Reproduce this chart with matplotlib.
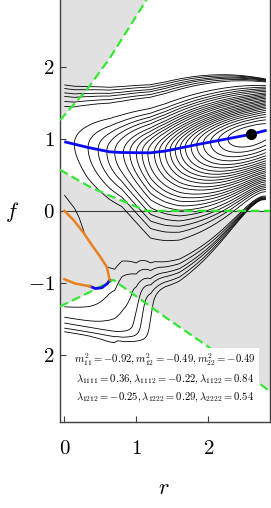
import numpy as np
import matplotlib

matplotlib.use("Agg")
import matplotlib.pyplot as plt
from matplotlib.path import Path

plt.rcParams["mathtext.fontset"] = "cm"
plt.rcParams["font.family"] = "serif"

# --- curves (r, f) ---
valley_r = [0.0, 0.33, 0.63, 0.8, 1.19, 1.4, 1.79, 2.26, 2.6, 2.81]
valley_f = [0.96, 0.88, 0.82, 0.81, 0.806, 0.83, 0.91, 1.0, 1.065, 1.12]
min_r, min_f = 2.6, 1.065

orange_up_r = [0.0, 0.13, 0.27, 0.40, 0.50, 0.59, 0.61, 0.63]
orange_up_f = [0.0, -0.13, -0.31, -0.50, -0.64, -0.78, -0.87, -0.96]
orange_lo_r = [0.0, 0.15, 0.36]
orange_lo_f = [-0.95, -1.01, -1.05]
blue_lo_r = [0.36, 0.43, 0.52, 0.60, 0.63]
blue_lo_f = [-1.05, -1.08, -1.07, -1.01, -0.96]

green_top_r = [-0.06, 0.31, 0.63, 0.87, 1.14]
green_top_f = [1.26, 1.68, 2.12, 2.50, 2.93]
green_mid_r = [-0.06, 0.36, 0.68, 1.14, 2.86]
green_mid_f = [0.57, 0.33, 0.19, 0.0, 0.0]
green_low_r = [-0.06, 0.31, 0.68, 1.42, 2.16, 2.86]
green_low_f = [-1.33, -1.15, -0.96, -1.49, -2.0, -2.51]

# contour positions: closed loops crossing the valley (r), open lines at r=0 (f)
loop_cross_r = [2.27, 2.14, 2.03, 1.93, 1.84, 1.76, 1.68, 1.61, 1.54, 1.47, 1.40, 1.32,
                1.25, 1.16, 1.08, 1.00, 0.91, 0.82, 0.70, 0.59, 0.47, 0.33, 0.14]
open_top_f = [1.45, 1.52, 1.59, 1.64, 1.70, 1.75]
# lower-left family (levels 25..29): f at r=0, lowest dip and its r, r where f=-1.1
low_f0 = [-1.34, -1.48, -1.56, -1.63, -1.68]
low_fmin = [-1.37, -1.61, -1.69, -1.76, -1.82]
low_rmin = [0.35, 0.73, 0.75, 0.80, 0.84]
low_wall_r = [0.63, 0.94, 1.05, 1.14, 1.26]

params_lines = [
    r"$m_{11}^2=-0.92, m_{12}^2=-0.49, m_{22}^2=-0.49$",
    r"$\lambda_{1111}=0.36, \lambda_{1112}=-0.22, \lambda_{1122}=0.84$",
    r"$\lambda_{1212}=-0.25, \lambda_{1222}=0.29, \lambda_{2222}=0.54$",
]
xtick_vals = [0, 1, 2]
xtick_labels = ["$0$", "$1$", "$2$"]
ytick_vals = [2, 1, 0, -1, -2]
ytick_labels = ["$2$", "$1$", "$0$", "$-1$", "$2$"]

GRAY = "#e1e1e1"
GREEN = "#33e833"
ORANGE = "#e8811c"
BLUE = "#0a0af0"
SPINE = "#404040"


def tab(r, xs, ys):
    return np.interp(r, xs, ys)


def basin_dist(R, F):
    """Anisotropic distance from the minimum, pinched near the right edge."""
    v = np.interp(R, valley_r, valley_f)
    X = np.where(R < 0.14, 2.46 + (0.14 - R) * 0.45,
                 np.where(R <= min_r, min_r - R, (R - min_r) * 1.0))
    d = F - v
    # above the valley
    hu = 1.86 - v + 0.37 * (2.85 - R)
    su = hu * np.arctanh(np.clip(d / hu, 0, 1 - 1e-9))
    qu = su / tab(R, [0, 1.2, 2.6, 2.85], [0.32, 0.32, 0.36, 0.36])
    # below the valley
    a = -d
    hd = v - 0.1 + 2.0 * np.clip(2.75 - R, 0, None) ** 1.5
    sd = hd * np.arctanh(np.clip(a / hd, 0, 1 - 1e-9))
    q0 = sd / tab(R, [0, 0.3, 0.6, 0.8, 1.2, 1.6, 2.0, 2.6, 2.85],
                  [0.34, 0.45, 0.45, 0.45, 0.6, 0.6, 0.56, 0.5, 0.5])
    knee = tab(R, [0, 0.3, 0.6, 0.8, 1.0, 1.4], [1.3, 1.3, 1.5, 1.7, 2.0, 3.0])
    rho = tab(R, [0, 0.2, 0.4, 0.7, 1.0, 1.4], [0.3, 0.4, 0.35, 0.33, 0.5, 1.0])
    qd = np.where(q0 > knee, knee + (q0 - knee) * rho, q0)
    q = np.where(d >= 0, qu, qd)
    return np.sqrt(X ** 2 + q ** 2)


def softmax(arrs, tau):
    m = np.maximum.reduce(arrs)
    return m + tau * np.log(sum(np.exp((a - m) / tau) for a in arrs))


def lower_field(R, F):
    ks = np.arange(25, 30)
    out = np.empty_like(R)
    for j in range(R.shape[1]):
        r = R[0, j]
        yk = np.array([np.interp(r, [0, rm], [y0, ym])
                       for y0, ym, rm in zip(low_f0, low_fmin, low_rmin)])
        f = F[:, j]
        lf = np.interp(-f, -yk, ks)
        lf = np.where(f > yk[0], 25 - (f - yk[0]) / 0.15, lf)
        lf = np.where(f < yk[-1], 29 + (yk[-1] - f) / 0.08, lf)
        re = r - 0.15 * (f + 1.1)
        lr = np.interp(re, low_wall_r, ks)
        lr = np.where(re < low_wall_r[0], 25 - (low_wall_r[0] - re) / 0.25, lr)
        lr = np.where(re > low_wall_r[-1], 29 + (re - low_wall_r[-1]) / 0.1, lr)
        lt = 24.3 + (f + 0.6) / 0.04
        kb = softmax([lf, lr], 0.8)
        out[:, j] = softmax([kb, lt], 0.15)
    return np.maximum(out, 24.3)


rr = np.linspace(0, 2.8, 420)
ff = np.linspace(-2.0, 1.9, 700)
R, F = np.meshgrid(rr, ff)

# level values taken from the read contour positions
loop_levels = [float(basin_dist(np.array([[r]]), np.array([[np.interp(r, valley_r, valley_f)]]))[0, 0])
               for r in loop_cross_r]
open_levels = [float(basin_dist(np.array([[0.0]]), np.array([[f]]))[0, 0]) for f in open_top_f]
dist_levels = np.array(sorted(loop_levels) + open_levels)
idx = np.arange(1, len(dist_levels) + 1)

D = basin_dist(R, F)
kA = np.interp(D, np.r_[0, dist_levels, dist_levels[-1] + 1.0],
               np.r_[0, idx, idx[-1] + 1.0 / 0.11])
kB = lower_field(R, F)
K = np.minimum(kA, kB) - 0.5 * np.log1p(np.exp(-np.abs(kA - kB) / 0.5))

# region with no real solution (bounded by the orange/blue branches)
hole = Path(np.column_stack([
    np.r_[-0.2, orange_up_r, blue_lo_r[::-1], orange_lo_r[::-1], -0.2],
    np.r_[orange_up_f[0], orange_up_f, blue_lo_f[::-1], orange_lo_f[::-1], orange_lo_f[0]],
]))
inside = hole.contains_points(np.column_stack([R.ravel(), F.ravel()])).reshape(R.shape)
K = np.ma.masked_where(inside, K)

fig = plt.figure(figsize=(2.71, 5.08), dpi=100)
ax = fig.add_axes([60 / 271, 86 / 508, 210 / 271, 422 / 508])
ax.set_xlim(-0.06, 2.857)
ax.set_ylim(-2.935, 2.93)

# shaded regions
ax.fill(np.r_[green_top_r, -0.06], np.r_[green_top_f, 2.93], color=GRAY, lw=0, zorder=0)
rs = np.linspace(-0.06, 2.86, 300)
ax.fill_between(rs, np.interp(rs, green_low_r, green_low_f),
                np.interp(rs, green_mid_r, green_mid_f), color=GRAY, lw=0, zorder=0)

ax.axhline(0, color="#3c3c3c", lw=0.8, zorder=1)
ax.contour(R, F, K, levels=idx, colors="black", linewidths=0.6, zorder=2)

ax.plot(valley_r, valley_f, color=BLUE, lw=2.0, zorder=4, solid_capstyle="butt")
ax.plot(blue_lo_r, blue_lo_f, color=BLUE, lw=2.0, zorder=4)
ax.plot(orange_up_r, orange_up_f, color=ORANGE, lw=1.8, zorder=4)
ax.plot(orange_lo_r, orange_lo_f, color=ORANGE, lw=1.8, zorder=4)
for gr, gf in ((green_top_r, green_top_f), (green_mid_r, green_mid_f), (green_low_r, green_low_f)):
    ax.plot(gr, gf, color=GREEN, lw=1.6, dashes=(4, 2), zorder=3)
ax.plot([min_r], [min_f], "o", color="black", ms=7, zorder=5)

ax.text(1.40, -2.32, "\n".join(params_lines), ha="center", va="center", fontsize=7.7,
        linespacing=1.5, zorder=6,
        bbox=dict(boxstyle="square,pad=0.25", fc="white", ec="none"))

ax.set_xticks(xtick_vals)
ax.set_xticklabels(xtick_labels, fontsize=15)
ax.set_yticks(ytick_vals)
ax.set_yticklabels(ytick_labels, fontsize=15)
ax.tick_params(direction="in", length=4, width=0.8, color=SPINE)
ax.tick_params(axis="x", pad=12)
ax.tick_params(axis="y", pad=4)
ax.spines["top"].set_visible(False)
for s in ("left", "right", "bottom"):
    ax.spines[s].set_color(SPINE)
    ax.spines[s].set_linewidth(1.0)

fig.text(12 / 271, 1 - 212 / 508, "$f$", fontsize=16, ha="center", va="center")
fig.text(164 / 271, 1 - 488 / 508, "$r$", fontsize=16, ha="center", va="center")

fig.savefig("out.png", dpi=100, facecolor="white")
